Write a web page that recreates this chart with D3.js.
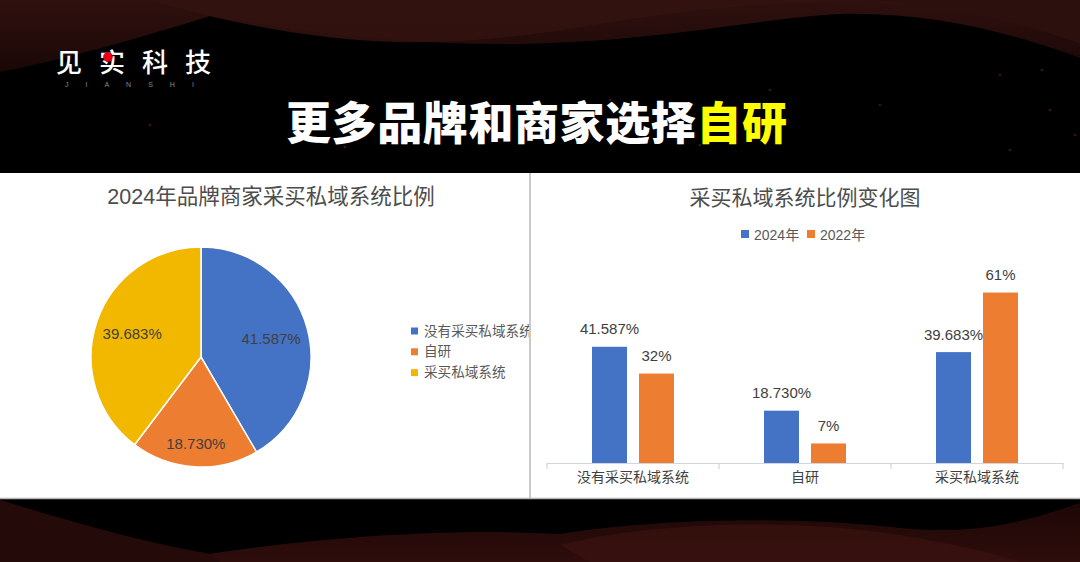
<!DOCTYPE html>
<html><head><meta charset="utf-8">
<script src="https://cdn.jsdelivr.net/npm/d3@7"></script>
<style>
body{margin:0;background:#000;}
svg{display:block;}
text{font-family:"Liberation Sans","Noto Sans CJK SC",sans-serif;}
</style>
</head><body>
<svg id="c" width="1080" height="562"></svg>
<script>
// ---- data ----
const pieTitle = "2024年品牌商家采买私域系统比例";
const pieCategories = ["没有采买私域系统", "自研", "采买私域系统"];
const pieValues = [41.587, 18.730, 39.683];
const pieLabels = ["41.587%", "18.730%", "39.683%"];

const barTitle = "采买私域系统比例变化图";
const barCategories = ["没有采买私域系统", "自研", "采买私域系统"];
const seriesNames = ["2024年", "2022年"];
const values2024 = [41.587, 18.730, 39.683];
const values2022 = [32, 7, 61];
const labels2024 = ["41.587%", "18.730%", "39.683%"];
const labels2022 = ["32%", "7%", "61%"];

const headerWhite = "更多品牌和商家选择";
const headerYellow = "自研";
const logoText = "见实科技";
const logoSub = "JIANSHI";

const pieColors = ["#4472C4", "#ED7D31", "#F2B800"];
const seriesColors = ["#4472C4", "#ED7D31"];

const svg = d3.select("#c");

// ---- background ----
const defs = svg.append("defs");
const g1 = defs.append("linearGradient").attr("id","gTop").attr("x1","0").attr("y1","0").attr("x2","0").attr("y2","1");
g1.append("stop").attr("offset","0").attr("stop-color","#2f110f");
g1.append("stop").attr("offset","1").attr("stop-color","#1a0706");
const g2 = defs.append("linearGradient").attr("id","gBot").attr("x1","0").attr("y1","0").attr("x2","0").attr("y2","1");
g2.append("stop").attr("offset","0").attr("stop-color","#1c0706");
g2.append("stop").attr("offset","1").attr("stop-color","#2e0d0b");

svg.append("rect").attr("width",1080).attr("height",562).attr("fill","#000");
svg.append("path").attr("fill","url(#gTop)")
  .attr("d","M0,0 H1080 V58 C1010,32 930,12 840,14 C760,18 660,42 520,44 C420,45 320,36 210,16 C140,38 70,58 0,72 Z");
svg.append("path").attr("fill","#33130f").attr("opacity",0.85)
  .attr("d","M150,0 C230,24 330,44 430,42 C540,40 610,18 720,8 C790,2 850,0 900,0 Z");
svg.append("path").attr("fill","#2c100e")
  .attr("d","M880,0 C960,8 1040,28 1080,44 V0 Z");

svg.append("path").attr("fill","url(#gBot)")
  .attr("d","M0,500 C60,518 130,540 210,554 C300,540 440,527 560,534 C660,518 800,516 900,528 C980,536 1030,520 1080,503 V562 H0 Z");
svg.append("path").attr("fill","#3a130f").attr("opacity",0.7)
  .attr("d","M560,545 C650,522 790,518 900,535 C960,545 1000,555 1020,562 H590 Z");
svg.append("path").attr("fill","#240a08")
  .attr("d","M0,500 C60,518 130,540 210,554 L220,562 H0 Z");

// faint dots
const dots = [[880,105],[1000,75],[1042,70],[1050,110],[1010,150],[1075,135],[420,135],[345,147],[150,125],[610,100],[700,145],[770,90]];
svg.selectAll("circle.dot").data(dots).join("circle").attr("class","dot")
  .attr("cx",d=>d[0]).attr("cy",d=>d[1]).attr("r",1.3).attr("fill","#5a1a24").attr("opacity",0.7);

// ---- logo ----
svg.append("text").attr("x",56).attr("y",60).attr("dominant-baseline","central")
  .attr("font-size",26).attr("fill","#fff").attr("letter-spacing",17)
  .style("font-family","'Noto Sans CJK SC'").attr("font-weight",500).text(logoText);
svg.append("circle").attr("cx",108).attr("cy",57).attr("r",4.8).attr("fill","#e60012");
svg.append("text").attr("x",65).attr("y",84).attr("dominant-baseline","central")
  .attr("font-size",7).attr("fill","#8a8a8a").attr("letter-spacing",17).text(logoSub);

// ---- header ----
const ht = svg.append("text").attr("x",286).attr("y",120).attr("dominant-baseline","central")
  .attr("font-size",45).attr("font-weight",900).attr("letter-spacing",0.6)
  .style("font-family","'Noto Sans CJK SC'");
ht.append("tspan").attr("fill","#fff").text(headerWhite);
ht.append("tspan").attr("fill","#FFFF00").text(headerYellow);

// ---- panels ----
svg.append("rect").attr("x",0).attr("y",173).attr("width",529).attr("height",326).attr("fill","#fff");
svg.append("rect").attr("x",531).attr("y",173).attr("width",549).attr("height",326).attr("fill","#fff");
svg.append("line").attr("x1",530).attr("x2",530).attr("y1",173).attr("y2",499).attr("stroke","#c9c9c9").attr("stroke-width",2);
svg.append("line").attr("x1",0).attr("x2",1080).attr("y1",498.5).attr("y2",498.5).attr("stroke","#b5b5b5").attr("stroke-width",1.5);

defs.append("clipPath").attr("id","clipL").append("rect").attr("x",0).attr("y",173).attr("width",529).attr("height",326);

// ---- pie chart ----
const L = svg.append("g").attr("clip-path","url(#clipL)");
L.append("text").attr("x",271).attr("y",197).attr("text-anchor","middle").attr("dominant-baseline","central")
  .attr("font-size",21.5).attr("fill","#4d4d4d").text(pieTitle);

const cx = 201, cy = 357, R = 110;
const pie = d3.pie().sort(null).value(d=>d.v);
const arcs = pie(pieValues.map((v,i)=>({v, i})));
const arc = d3.arc().innerRadius(0).outerRadius(R);
const pg = L.append("g").attr("transform",`translate(${cx},${cy})`);
pg.selectAll("path").data(arcs).join("path")
  .attr("d",arc).attr("fill",d=>pieColors[d.data.i]).attr("stroke","#fff").attr("stroke-width",1.5);
pg.selectAll("text").data(arcs).join("text")
  .attr("transform",d=>{
    const f = (d.endAngle-d.startAngle) < Math.PI*0.5 ? 0.79 : 0.66;
    const c = d3.arc().innerRadius(R*f).outerRadius(R*f).centroid(d);
    return `translate(${c[0]},${c[1]})`;
  })
  .attr("text-anchor","middle").attr("dominant-baseline","central")
  .attr("font-size",15).attr("fill","#404040").text(d=>pieLabels[d.data.i]);

const lg = L.append("g");
pieCategories.forEach((c,i)=>{
  const yy = 331 + i*20.8;
  lg.append("rect").attr("x",411).attr("y",yy-3.5).attr("width",7).attr("height",7).attr("fill",pieColors[i]);
  lg.append("text").attr("x",424).attr("y",yy).attr("dominant-baseline","central")
    .attr("font-size",13.6).attr("fill","#595959").text(c);
});

// ---- bar chart ----
const B = svg.append("g");
B.append("text").attr("x",805).attr("y",197).attr("text-anchor","middle").attr("dominant-baseline","central")
  .attr("font-size",21).attr("fill","#4d4d4d").text(barTitle);

const legX = [741, 807];
seriesNames.forEach((s,i)=>{
  B.append("rect").attr("x",legX[i]).attr("y",230).attr("width",8).attr("height",8).attr("fill",seriesColors[i]);
  B.append("text").attr("x",legX[i]+13).attr("y",234.5).attr("dominant-baseline","central")
    .attr("font-size",14).attr("fill","#595959").text(s);
});

const x0 = d3.scaleBand().domain(barCategories).range([547,1063]).paddingInner(0).paddingOuter(0);
const x1 = d3.scaleBand().domain(seriesNames).range([0,82]).paddingInner(12/47).paddingOuter(0);
const off = (x0.bandwidth()-82)/2;
const y = d3.scaleLinear().domain([0,70]).range([463,463-195.6]);

const rows = barCategories.map((c,i)=>({c, vals:[values2024[i], values2022[i]], labs:[labels2024[i], labels2022[i]]}));
const grp = B.selectAll("g.cat").data(rows).join("g").attr("class","cat")
  .attr("transform",d=>`translate(${x0(d.c)+off},0)`);
grp.selectAll("rect").data(d=>d.vals.map((v,j)=>({v,j,lab:d.labs[j]}))).join("rect")
  .attr("x",d=>x1(seriesNames[d.j])).attr("width",x1.bandwidth())
  .attr("y",d=>y(d.v)).attr("height",d=>y(0)-y(d.v)).attr("fill",d=>seriesColors[d.j]);
grp.selectAll("text").data(d=>d.vals.map((v,j)=>({v,j,lab:d.labs[j]}))).join("text")
  .attr("x",d=>x1(seriesNames[d.j])+x1.bandwidth()/2).attr("y",d=>y(d.v)-18)
  .attr("text-anchor","middle").attr("dominant-baseline","central")
  .attr("font-size",15).attr("fill","#404040").text(d=>d.lab);

// axis
const ax = B.append("g").attr("transform","translate(0,463)")
  .call(d3.axisBottom(x0).tickSize(0).tickPadding(9));
ax.select(".domain").remove();
ax.selectAll("text").attr("font-size",14).attr("fill","#404040")
  .style("font-family","'Liberation Sans','Noto Sans CJK SC',sans-serif");
B.append("line").attr("x1",547).attr("x2",1063).attr("y1",463.5).attr("y2",463.5).attr("stroke","#d0d5e0").attr("stroke-width",1.2);
const bounds = barCategories.map(c=>x0(c)).concat([x0.range()[1]]);
B.selectAll("line.tk").data(bounds).join("line").attr("class","tk")
  .attr("x1",d=>d).attr("x2",d=>d).attr("y1",463).attr("y2",469).attr("stroke","#d0d5e0").attr("stroke-width",1.2);
</script>
</body></html>
